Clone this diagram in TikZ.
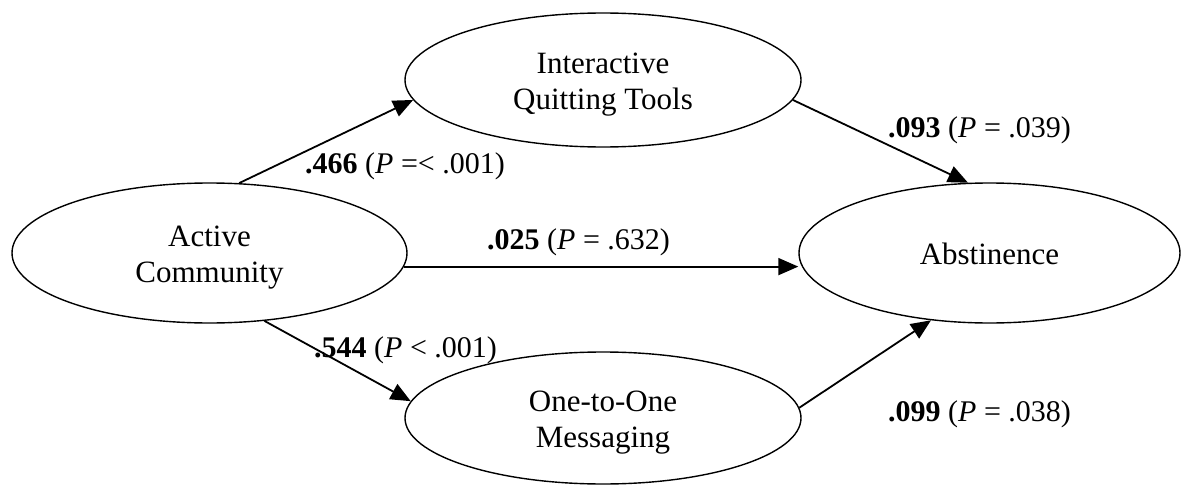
\documentclass[tikz,border=0pt]{standalone}
\usepackage{fontspec}
\setmainfont{Liberation Serif}
\usetikzlibrary{shapes.geometric,arrows.meta,calc}
\begin{document}
\begin{tikzpicture}[x=1pt,y=-1pt,
  ell/.style={draw, ellipse, line width=1.4pt, inner sep=0pt},
  txt/.style={inner sep=0pt, align=center, font=\fontsize{31}{36}\selectfont},
  conn/.style={line width=1.8pt, -{Triangle[length=20pt,width=17pt]}},
  lab/.style={anchor=base west, inner sep=0pt, font=\fontsize{30}{36}\selectfont}]
\useasboundingbox (0,0) rectangle (1181,487);
\node[ell, minimum width=395pt, minimum height=140pt] (ac) at (209.5,253) {};
\node[ell, minimum width=396pt, minimum height=134pt] (iq) at (603,80) {};
\node[ell, minimum width=396pt, minimum height=132pt] (om) at (603,418) {};
\node[ell, minimum width=381pt, minimum height=140pt] (ab) at (989.5,253) {};
\node[txt] (act) at ($(ac.center)+(0,5)$) {Active\\Community};
\node[txt] (iqt) at ($(iq.center)+(0,5)$) {Interactive\\Quitting Tools};
\node[txt] (omt) at ($(om.center)+(0,5)$) {One-to-One\\Messaging};
\node[txt] (abt) at ($(ab.center)+(0,1)$) {Abstinence};
\draw[conn] (ac.67.8) -- (iq.186);
\draw[conn] (iq.-6) -- (ab.107.2);
\draw[conn] (ac.-4.4) -- (ac.-4.4 -| ab.west);
\draw[conn] (ac.-51) -- (om.175.4);
\draw[conn] (om.3.2) -- (ab.229.2);
\node[lab] (l1) at (305,173) {\textbf{.466} (\textit{P} =< .001)};
\node[lab] (l2) at (888,137) {\textbf{.093} (\textit{P} = .039)};
\node[lab] (l3) at (487,249) {\textbf{.025} (\textit{P} = .632)};
\node[lab] (l4) at (314,357) {\textbf{.544} (\textit{P} < .001)};
\node[lab] (l5) at (888,421) {\textbf{.099} (\textit{P} = .038)};
\end{tikzpicture}
\end{document}
